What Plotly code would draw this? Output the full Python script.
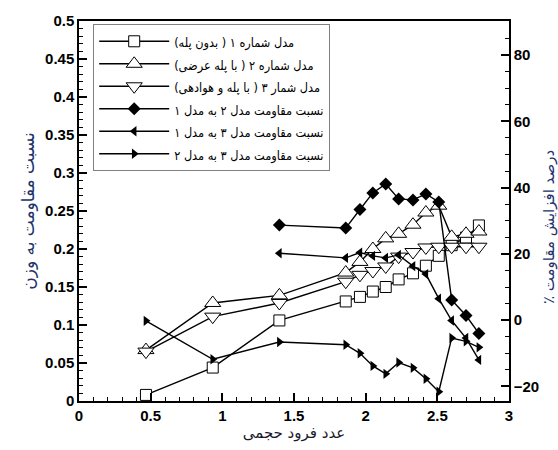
import plotly.graph_objects as go

# ---- data ----
froude_m1 = [0.467, 0.933, 1.398, 1.861, 1.96, 2.05, 2.14, 2.23, 2.33, 2.42, 2.51, 2.60, 2.70, 2.79]
model1 = [0.008, 0.044, 0.106, 0.131, 0.137, 0.144, 0.150, 0.160, 0.168, 0.178, 0.191, 0.205, 0.215, 0.231]
model2 = [0.067, 0.129, 0.139, 0.169, 0.183, 0.200, 0.214, 0.220, 0.232, 0.248, 0.257, 0.216, 0.220, 0.223]
model3 = [0.065, 0.111, 0.129, 0.157, 0.166, 0.171, 0.177, 0.190, 0.196, 0.202, 0.203, 0.203, 0.203, 0.203]

froude_r = [1.398, 1.861, 1.96, 2.05, 2.14, 2.23, 2.33, 2.42, 2.51, 2.60, 2.70, 2.79]
ratio_2_1 = [28.7, 27.8, 33.4, 38.4, 41.1, 36.6, 36.3, 38.1, 35.7, 6.1, 1.4, -4.0]
ratio_3_1 = [20.2, 18.8, 20.4, 19.4, 18.8, 19.7, 16.3, 13.9, 6.5, -0.1, -5.4, -12.0]

froude_r32 = [0.467, 0.933, 1.398, 1.861, 1.96, 2.05, 2.14, 2.23, 2.33, 2.42, 2.51, 2.60, 2.70, 2.79]
ratio_3_2 = [-0.2, -11.8, -6.6, -7.4, -10.0, -13.8, -16.2, -12.8, -14.4, -17.7, -21.6, -5.4, -6.4, -8.2]

names = [
    "مدل شماره ۱ ( بدون پله)",
    "مدل شماره ۲ ( با پله عرضی)",
    "مدل شمار ۳ ( با پله و هوادهی)",
    "نسبت مقاومت مدل ۲ به مدل ۱",
    "نسبت مقاومت مدل ۳ به مدل ۱",
    "نسبت مقاومت مدل ۳ به مدل ۲",
]
x_title = "عدد فرود حجمی"
y_title = "نسبت مقاومت به وزن"
y2_title = "درصد افزایش مقاومت ٪"


def rtl(s):
    return "\u202B" + s + "\u202C"


def legend_name(s):
    return "<span style='font-size:12.6px'>" + rtl(s) + "</span>"


fig = go.Figure()
line = dict(color="black", width=1.4)
fig.add_trace(go.Scatter(x=froude_m1, y=model1, mode="lines+markers", name=legend_name(names[0]), line=line,
                         marker=dict(symbol="square", size=11, color="white", line=dict(color="black", width=1))))
fig.add_trace(go.Scatter(x=froude_m1, y=model2, mode="lines+markers", name=legend_name(names[1]), line=line,
                         marker=dict(symbol="triangle-up", size=14, color="white", line=dict(color="black", width=1))))
fig.add_trace(go.Scatter(x=froude_m1, y=model3, mode="lines+markers", name=legend_name(names[2]), line=line,
                         marker=dict(symbol="triangle-down", size=14, color="white", line=dict(color="black", width=1))))
fig.add_trace(go.Scatter(x=froude_r, y=ratio_2_1, mode="lines+markers", name=legend_name(names[3]), line=line, yaxis="y2",
                         marker=dict(symbol="diamond", size=10, color="black")))
fig.add_trace(go.Scatter(x=froude_r, y=ratio_3_1, mode="lines+markers", name=legend_name(names[4]), line=line, yaxis="y2",
                         marker=dict(symbol="triangle-left", size=9, color="black")))
fig.add_trace(go.Scatter(x=froude_r32, y=ratio_3_2, mode="lines+markers", name=legend_name(names[5]), line=line, yaxis="y2",
                         marker=dict(symbol="triangle-right", size=9, color="black")))

tickfont = dict(family="Liberation Sans", size=15, color="black", weight="bold")
title_blue = "#22336b"

fig.update_layout(
    width=558, height=450,
    margin=dict(l=79, r=49, t=17, b=42),
    paper_bgcolor="white", plot_bgcolor="white",
    showlegend=True,
    legend=dict(x=0.033, y=0.992, xanchor="left", yanchor="top",
                bgcolor="white", bordercolor="#808080", borderwidth=1,
                font=dict(family="DejaVu Sans Condensed, DejaVu Sans", size=15, color="black"),
                itemwidth=70, tracegroupgap=0),
    xaxis=dict(range=[0, 3], dtick=0.5, tick0=0, showgrid=False, zeroline=False,
               showline=True, linecolor="black", linewidth=1.5, mirror=True,
               ticks="inside", ticklen=8, tickwidth=1.5, tickcolor="black",
               minor=dict(dtick=0.1, ticks="inside", ticklen=4, tickcolor="black", tickwidth=1),
               tickfont=tickfont,
               title=dict(text=x_title, font=dict(family="DejaVu Sans", size=15, color="#1a1a2e"), standoff=4)),
    yaxis=dict(range=[0, 0.5], dtick=0.05, tick0=0, showgrid=False, zeroline=False,
               showline=True, linecolor="black", linewidth=1.5,
               ticks="inside", ticklen=8, tickwidth=1.5, tickcolor="black",
               minor=dict(dtick=0.01, ticks="inside", ticklen=4, tickcolor="black", tickwidth=1),
               tickfont=tickfont,
               title=dict(text=y_title, font=dict(family="DejaVu Sans", size=17, color=title_blue), standoff=6)),
    yaxis2=dict(range=[-24.4, 90.3], dtick=20, tick0=0, overlaying="y", side="right",
                showgrid=False, zeroline=False,
                showline=True, linecolor="black", linewidth=1.5,
                ticks="inside", ticklen=8, tickwidth=1.5, tickcolor="black",
                minor=dict(dtick=5, ticks="inside", ticklen=4, tickcolor="black", tickwidth=1),
                tickfont=tickfont),
    annotations=[dict(text=rtl(y2_title), textangle=-90, xref="paper", yref="paper",
                      x=1.0, xshift=40, xanchor="center", yanchor="middle",
                      y=(408 - 229) / 391, showarrow=False,
                      font=dict(family="DejaVu Sans", size=15, color=title_blue))],
)

fig.write_html("out.html")
